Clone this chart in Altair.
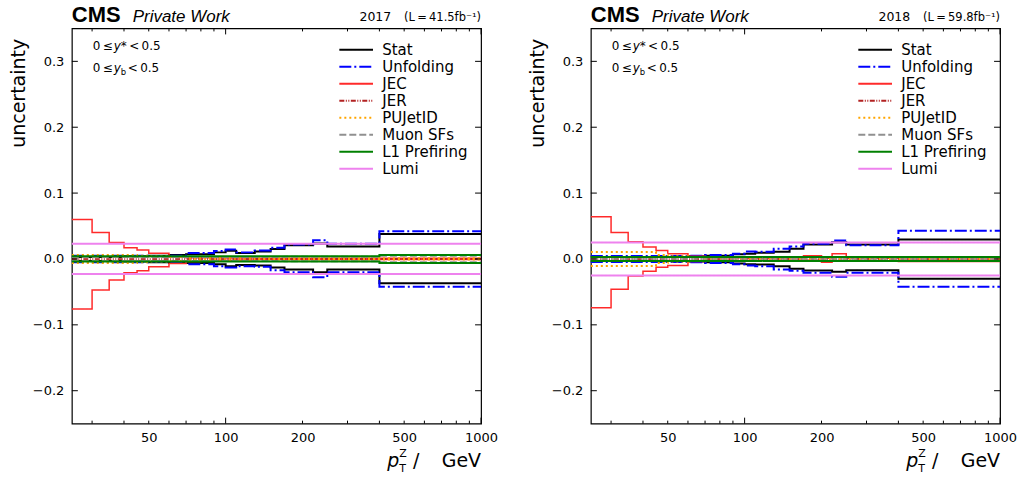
import altair as alt
import pandas as pd

# ---------------- data ----------------
EDGES = [25, 30, 35, 40, 45, 50, 60, 70, 80, 90, 100, 110, 130, 150, 170, 200, 220, 250, 400, 1000]
SERIES = ["Stat", "Unfolding", "JEC", "JER", "PUJetID", "Muon SFs", "L1 Prefiring", "Lumi"]

# 2017
STAT_UP_2017 = [0.003, 0.003, 0.003, 0.004, 0.004, 0.005, 0.006, 0.007, 0.007, 0.010, 0.0125, 0.009, 0.0115, 0.015, 0.021, 0.021, 0.0235, 0.019, 0.038]
STAT_DN_2017 = [-0.003, -0.003, -0.003, -0.004, -0.004, -0.005, -0.006, -0.006, -0.006, -0.008, -0.011, -0.009, -0.010, -0.013, -0.016, -0.016, -0.020, -0.016, -0.037]
UNF_UP_2017 = [0.005, 0.005, 0.005, 0.005, 0.005, 0.004, 0.005, 0.009, 0.009, 0.012, 0.0145, 0.010, 0.013, 0.017, 0.022, 0.022, 0.0285, 0.023, 0.042]
UNF_DN_2017 = [-0.005, -0.005, -0.005, -0.005, -0.005, -0.004, -0.005, -0.008, -0.008, -0.011, -0.013, -0.011, -0.012, -0.017, -0.020, -0.020, -0.0276, -0.020, -0.042]
JEC_UP_2017 = [0.060, 0.040, 0.025, 0.017, 0.0135, 0.0086, 0.003, 0.002, 0.002, 0.002, 0.0015, 0.0015, 0.001, 0.001, 0.001, 0.001, 0.001, 0.001, 0.001]
JEC_DN_2017 = [-0.076, -0.047, -0.032, -0.021, -0.018, -0.012, -0.007, -0.004, -0.003, -0.002, -0.002, -0.0015, -0.001, -0.001, -0.001, -0.001, -0.001, -0.001, -0.001]
JER_UP_2017 = [0.001, 0.001, 0.001, 0.001, 0.001, 0.001, 0.001, 0.001, 0.001, 0.001, 0.001, 0.001, 0.0005, 0.0005, 0.0005, 0.0005, 0.0005, 0.0005, 0.0005]
JER_DN_2017 = [-0.001, -0.001, -0.001, -0.001, -0.001, -0.001, -0.001, -0.001, -0.001, -0.001, -0.001, -0.001, -0.0005, -0.0005, -0.0005, -0.0005, -0.0005, -0.0005, -0.0005]
PU_UP_2017 = [0.006, 0.006, 0.006, 0.006, 0.005, 0.004, 0.003, 0.002, 0.002, 0.002, 0.002, 0.002, 0.001, 0.001, 0.001, 0.001, 0.001, 0.001, 0.001]
PU_DN_2017 = [-0.006, -0.006, -0.006, -0.006, -0.005, -0.004, -0.003, -0.002, -0.002, -0.002, -0.002, -0.002, -0.001, -0.001, -0.001, -0.001, -0.001, -0.001, -0.001]
MU_UP_2017 = [0.003, 0.003, 0.003, 0.003, 0.003, 0.003, 0.003, 0.003, 0.003, 0.003, 0.003, 0.003, 0.003, 0.003, 0.0035, 0.0035, 0.0035, 0.0035, 0.005]
MU_DN_2017 = [-0.003, -0.003, -0.003, -0.003, -0.003, -0.003, -0.003, -0.003, -0.003, -0.003, -0.003, -0.003, -0.003, -0.003, -0.0035, -0.0035, -0.0035, -0.0035, -0.005]
L1_UP_2017 = [0.004, 0.004, 0.004, 0.004, 0.004, 0.004, 0.004, 0.004, 0.004, 0.004, 0.004, 0.004, 0.004, 0.004, 0.004, 0.004, 0.004, 0.004, 0.006]
L1_DN_2017 = [-0.004, -0.004, -0.004, -0.004, -0.004, -0.004, -0.004, -0.004, -0.004, -0.004, -0.004, -0.004, -0.004, -0.004, -0.004, -0.004, -0.004, -0.004, -0.006]
LUMI_UP_2017 = [0.023, 0.023, 0.023, 0.023, 0.023, 0.023, 0.023, 0.023, 0.023, 0.023, 0.023, 0.023, 0.023, 0.023, 0.023, 0.023, 0.023, 0.023, 0.023]
LUMI_DN_2017 = [-0.023, -0.023, -0.023, -0.023, -0.023, -0.023, -0.023, -0.023, -0.023, -0.023, -0.023, -0.023, -0.023, -0.023, -0.023, -0.023, -0.023, -0.023, -0.023]

# 2018
STAT_UP_2018 = [0.003, 0.003, 0.003, 0.003, 0.003, 0.003, 0.004, 0.005, 0.005, 0.007, 0.008, 0.0095, 0.011, 0.0155, 0.022, 0.022, 0.0255, 0.022, 0.0295]
STAT_DN_2018 = [-0.003, -0.003, -0.003, -0.003, -0.003, -0.003, -0.004, -0.005, -0.005, -0.007, -0.008, -0.0085, -0.011, -0.015, -0.0174, -0.0174, -0.0195, -0.017, -0.030]
UNF_UP_2018 = [0.0045, 0.0045, 0.0045, 0.0045, 0.0045, 0.0045, 0.005, 0.006, 0.006, 0.008, 0.0115, 0.011, 0.0155, 0.019, 0.023, 0.023, 0.028, 0.021, 0.043]
UNF_DN_2018 = [-0.0045, -0.0045, -0.0045, -0.0045, -0.0045, -0.0045, -0.005, -0.006, -0.006, -0.008, -0.010, -0.011, -0.016, -0.018, -0.021, -0.021, -0.027, -0.021, -0.042]
JEC_UP_2018 = [0.064, 0.040, 0.026, 0.018, 0.013, 0.008, 0.004, 0.002, 0.002, 0.002, 0.001, 0.001, 0.001, 0.002, 0.005, 0.001, 0.008, 0.001, 0.000]
JEC_DN_2018 = [-0.074, -0.046, -0.026, -0.0185, -0.0124, -0.010, -0.004, -0.002, -0.002, -0.003, -0.002, -0.002, -0.002, -0.002, -0.002, -0.005, -0.003, -0.003, -0.004]
JER_UP_2018 = [0.001, 0.001, 0.001, 0.001, 0.001, 0.001, 0.001, 0.001, 0.001, 0.001, 0.001, 0.001, 0.001, 0.001, 0.001, 0.001, 0.001, 0.001, 0.001]
JER_DN_2018 = [-0.001, -0.001, -0.001, -0.001, -0.001, -0.001, -0.001, -0.001, -0.001, -0.001, -0.001, -0.001, -0.001, -0.001, -0.001, -0.001, -0.001, -0.001, -0.001]
PU_UP_2018 = [0.0105, 0.0105, 0.0105, 0.0105, 0.006, 0.004, 0.003, 0.002, 0.002, 0.002, 0.001, 0.001, 0.001, 0.001, 0.001, 0.001, 0.001, 0.001, 0.001]
PU_DN_2018 = [-0.0105, -0.0105, -0.0105, -0.0105, -0.006, -0.004, -0.003, -0.002, -0.002, -0.002, -0.001, -0.001, -0.001, -0.001, -0.001, -0.001, -0.001, -0.001, -0.001]
MU_UP_2018 = [0.002, 0.002, 0.002, 0.002, 0.002, 0.002, 0.002, 0.002, 0.002, 0.002, 0.002, 0.002, 0.002, 0.002, 0.002, 0.002, 0.002, 0.002, 0.002]
MU_DN_2018 = [-0.002, -0.002, -0.002, -0.002, -0.002, -0.002, -0.002, -0.002, -0.002, -0.002, -0.002, -0.002, -0.002, -0.002, -0.002, -0.002, -0.002, -0.002, -0.002]
L1_UP_2018 = [0.003, 0.003, 0.003, 0.003, 0.003, 0.003, 0.003, 0.003, 0.003, 0.003, 0.003, 0.003, 0.003, 0.003, 0.003, 0.003, 0.003, 0.003, 0.003]
L1_DN_2018 = [-0.003, -0.003, -0.003, -0.003, -0.003, -0.003, -0.003, -0.003, -0.003, -0.003, -0.003, -0.003, -0.003, -0.003, -0.003, -0.003, -0.003, -0.003, -0.003]
LUMI_UP_2018 = [0.025, 0.025, 0.025, 0.025, 0.025, 0.025, 0.025, 0.025, 0.025, 0.025, 0.025, 0.025, 0.025, 0.025, 0.025, 0.025, 0.025, 0.025, 0.025]
LUMI_DN_2018 = [-0.025, -0.025, -0.025, -0.025, -0.025, -0.025, -0.025, -0.025, -0.025, -0.025, -0.025, -0.025, -0.025, -0.025, -0.025, -0.025, -0.025, -0.025, -0.025]

X_LABELS = [50, 100, 200, 500, 1000]
X_MAJOR_TICKS = [100, 1000]
X_MINOR_TICKS = [30, 40, 50, 60, 70, 80, 90, 200, 300, 400, 500, 600, 700, 800, 900]
Y_TICKS = [-0.2, -0.1, 0.0, 0.1, 0.2, 0.3]

PANELS = [
    ("2017", "(L\u2009=\u200941.5fb\u207b\u00b9)", {
        "Stat": (STAT_UP_2017, STAT_DN_2017), "Unfolding": (UNF_UP_2017, UNF_DN_2017),
        "JEC": (JEC_UP_2017, JEC_DN_2017), "JER": (JER_UP_2017, JER_DN_2017),
        "PUJetID": (PU_UP_2017, PU_DN_2017), "Muon SFs": (MU_UP_2017, MU_DN_2017),
        "L1 Prefiring": (L1_UP_2017, L1_DN_2017), "Lumi": (LUMI_UP_2017, LUMI_DN_2017)}),
    ("2018", "(L\u2009=\u200959.8fb\u207b\u00b9)", {
        "Stat": (STAT_UP_2018, STAT_DN_2018), "Unfolding": (UNF_UP_2018, UNF_DN_2018),
        "JEC": (JEC_UP_2018, JEC_DN_2018), "JER": (JER_UP_2018, JER_DN_2018),
        "PUJetID": (PU_UP_2018, PU_DN_2018), "Muon SFs": (MU_UP_2018, MU_DN_2018),
        "L1 Prefiring": (L1_UP_2018, L1_DN_2018), "Lumi": (LUMI_UP_2018, LUMI_DN_2018)}),
]

# ---------------- styles ----------------
COLORS = ["#000000", "#0000ff", "#ff2a2a", "#b22222", "#ffa500", "#909090", "#008000", "#ee82ee"]
DASHES = [[1, 0], [12, 3, 2, 3], [1, 0], [5, 1.5, 1, 1.5, 1, 1.5], [2, 3], [7, 3], [1, 0], [1, 0]]
WIDTHS = [2, 2, 1.5, 1, 2, 2, 2, 2]
W, H = 410, 396
FONT = "DejaVu Sans"

xscale = alt.Scale(type="log", domain=[25, 1000], nice=False)
yscale = alt.Scale(domain=[-0.25, 0.35], nice=False, zero=False)

X_AXIS = alt.Axis(values=X_LABELS, format="d", ticks=False, tickSize=0, grid=False, domain=False,
                  labelFlush=False, labelOverlap=False, labelFontSize=13, labelFont=FONT,
                  labelPadding=8, title=None, labelColor="black")
Y_AXIS = alt.Axis(values=Y_TICKS, format=".1f", ticks=False, tickSize=0, grid=False, domain=False,
                  labelFontSize=13, labelFont=FONT, labelPadding=8, labelColor="black",
                  title="uncertainty", titleFontSize=19, titleFont=FONT, titleFontWeight="normal",
                  titleColor="black", titleAnchor="end", titleX=-53, titleY=10, titleAlign="right",
                  titleBaseline="middle", titleAngle=-90)


def xenc():
    return alt.X("pt:Q", scale=xscale, axis=X_AXIS)


def yenc():
    return alt.Y("val:Q", scale=yscale, axis=Y_AXIS)


def build_df(up, dn, series):
    rows = []
    for side, arr in (("up", up), ("down", dn)):
        for i, e in enumerate(EDGES):
            rows.append({"pt": e, "val": arr[min(i, len(arr) - 1)], "side": side, "series": series})
    return pd.DataFrame(rows)


def text(txt, x, y, size, font=FONT, weight="normal", style="normal", align="left", baseline="alphabetic"):
    return alt.Chart(pd.DataFrame({"t": [txt]})).mark_text(
        text=txt, fontSize=size, font=font, fontWeight=weight, fontStyle=style,
        align=align, baseline=baseline, color="black"
    ).encode(x=alt.value(x), y=alt.value(y))


def legend():
    return alt.Legend(title=None, orient="top-right", offset=13, labelFontSize=15, labelFont=FONT,
                      symbolType="M-1,0H3.5", symbolSize=225, symbolStrokeWidth=2, rowPadding=-0.4,
                      labelOffset=27, padding=0, labelColor="black")


def panel(year, lumi, data):
    layers = []
    for s, w in zip(SERIES, WIDTHS):
        up, dn = data[s]
        df = build_df(up, dn, s)
        layers.append(
            alt.Chart(df).mark_line(interpolate="step-after", strokeWidth=w).encode(
                x=xenc(), y=yenc(),
                color=alt.Color("series:N", scale=alt.Scale(domain=SERIES, range=COLORS), legend=legend()),
                strokeDash=alt.StrokeDash("series:N", scale=alt.Scale(domain=SERIES, range=DASHES), legend=legend()),
                detail="side:N",
            )
        )
    # inward ticks
    xmin = pd.DataFrame({"pt": X_MINOR_TICKS})
    xmaj = pd.DataFrame({"pt": X_MAJOR_TICKS})
    yt = pd.DataFrame({"val": Y_TICKS})
    for d, ln in ((xmin, 3), (xmaj, 6)):
        layers.append(alt.Chart(d).mark_rule(color="black", strokeWidth=1).encode(x=xenc(), y=alt.value(H), y2=alt.value(H - ln)))
        layers.append(alt.Chart(d).mark_rule(color="black", strokeWidth=1).encode(x=xenc(), y=alt.value(0), y2=alt.value(ln)))
    layers.append(alt.Chart(yt).mark_rule(color="black", strokeWidth=1).encode(y=yenc(), x=alt.value(0), x2=alt.value(6)))
    layers.append(alt.Chart(yt).mark_rule(color="black", strokeWidth=1).encode(y=yenc(), x=alt.value(W), x2=alt.value(W - 6)))

    # header texts
    layers.append(text("CMS", 0, -6, 22, font="Liberation Sans", weight="bold"))
    layers.append(text("Private Work", 61, -6, 17, font="Liberation Sans", style="italic"))
    layers.append(text(lumi, W, -7, 11.5, align="right"))
    layers.append(text(year, W - 90, -7, 12.5, align="right"))
    # in-plot annotation
    layers.append(text("0\u2009\u2264", 21, 22, 12))
    layers.append(text("y", 42, 22, 12, style="italic"))
    layers.append(text("*\u2009<\u20090.5", 49, 22, 12))
    layers.append(text("0\u2009\u2264", 21, 44, 12))
    layers.append(text("y", 42, 44, 12, style="italic"))
    layers.append(text("b", 49, 47, 8.5))
    layers.append(text("<\u20090.5", 56, 44, 12))
    # x-axis title
    layers.append(text("p", 316, H + 43, 19, style="italic"))
    layers.append(text("Z", 328, H + 33, 11))
    layers.append(text("T", 328, H + 48, 11))
    layers.append(text("/", 345, H + 43, 19, align="center"))
    layers.append(text("GeV", W, H + 43, 19, align="right"))

    return alt.layer(*layers).properties(width=W, height=H)


left = panel(*PANELS[0])
right = panel(*PANELS[1])

chart = alt.hconcat(left, right, spacing=110, bounds="flush").resolve_scale(
    color="independent", strokeDash="independent"
).properties(
    padding={"left": 9, "top": 3, "right": 5, "bottom": 5}
).configure(background="white").configure_view(stroke="black", strokeWidth=1.2)

chart.save("out.html", embed_options={"renderer": "svg", "actions": False})
